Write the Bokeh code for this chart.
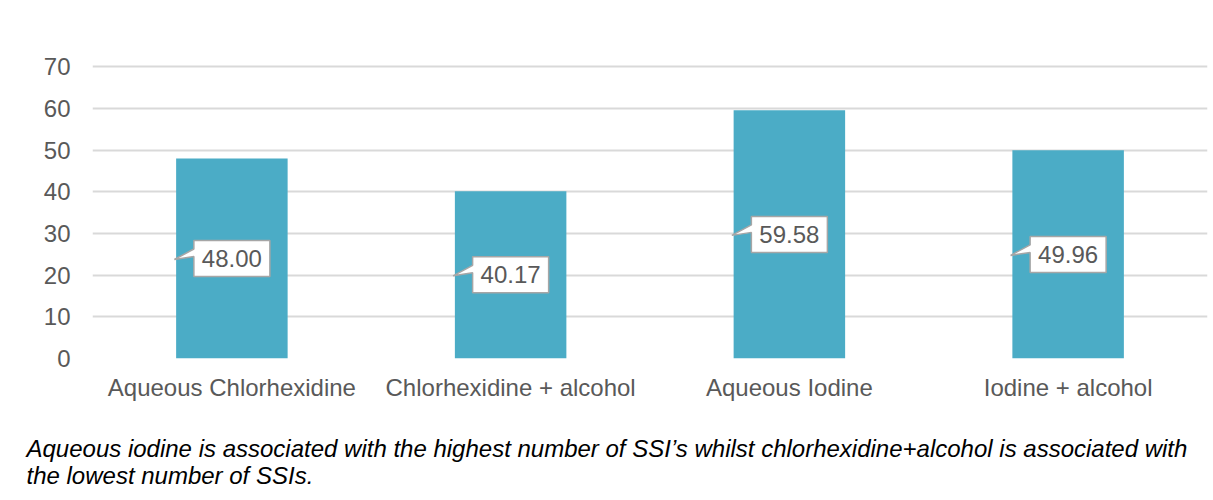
from bokeh.plotting import figure
from bokeh.models import FactorRange, Range1d, Label
from bokeh.embed import file_html
from bokeh.resources import INLINE
from bokeh.core.properties import value

# ---------------- data ----------------
categories = ["Aqueous Chlorhexidine", "Chlorhexidine + alcohol", "Aqueous Iodine", "Iodine + alcohol"]
ssi_values = [48.00, 40.17, 59.58, 49.96]
y_ticks = [0, 10, 20, 30, 40, 50, 60, 70]
caption_lines = [
    "Aqueous iodine is associated with the highest number of SSI\u2019s whilst chlorhexidine+alcohol is associated with",
    "the lowest number of SSIs.",
]

# ---------------- layout constants (canvas px) ----------------
W, H = 1213, 500
FL, FR, FT, FB = 92, 1207, 58, 358
Y_END = 72
FONT = "Liberation Sans"
GREY_TXT = "#595959"
BAR = "#4bacc6"

p = figure(width=W, height=H, x_range=FactorRange(*categories), y_range=Range1d(0, Y_END),
           output_backend="svg", toolbar_location=None, tools="",
           min_border_left=FL, min_border_right=W - FR, min_border_top=FT, min_border_bottom=H - FB)
# pixel range for page decorations (canvas px, y downward)
p.extra_y_ranges = {"px": Range1d(FB, FT)}

p.outline_line_color = None
p.background_fill_color = "white"
p.border_fill_color = "white"

p.xgrid.grid_line_color = None
p.ygrid.grid_line_color = "#d9d9d9"
p.ygrid.grid_line_width = 2
p.yaxis.ticker = y_ticks

for ax in (p.xaxis[0], p.yaxis[0]):
    ax.axis_line_color = None
    ax.major_tick_line_color = None
    ax.minor_tick_line_color = None
    ax.major_tick_out = 0
    ax.major_tick_in = 0
    ax.major_label_text_font = FONT
    ax.major_label_text_font_size = "24px"
    ax.major_label_text_color = GREY_TXT
p.yaxis.major_label_standoff = 22
p.xaxis.major_label_standoff = 15

# bars
p.vbar(x=categories, top=ssi_values, width=0.4, fill_color=BAR, line_color=None)

# callout data labels
cw = (FR - FL) / len(categories)      # px per category
py = (FB - FT) / Y_END                # px per y unit
half_w, half_h = 38, 18
tip_dx, tip_dy = -57.5, -1
att_hi, att_lo = 9.5, 2.0
xs, ys, lx, ly, lt = [], [], [], [], []
for i, v in enumerate(ssi_values):
    cx = i + 0.5
    cy = v / 2
    L = cx - half_w / cw
    R = cx + half_w / cw
    T = cy + half_h / py
    B = cy - half_h / py
    xs.append([L, R, R, L, L, cx + tip_dx / cw, L, L])
    ys.append([T, T, B, B, cy + att_lo / py, cy + tip_dy / py, cy + att_hi / py, T])
    lx.append(categories[i])
    ly.append(cy)
    lt.append(f"{v:.2f}")
p.patches(xs, ys, fill_color="white", line_color="#a6a6a6", line_width=1.5)
p.text(x=lx, y=ly, text=lt, text_align="center", text_baseline="middle",
       text_font=value(FONT), text_font_size="24px", text_color=GREY_TXT)

# ---------------- page decorations (labels in side panel are not clipped) ----------------
def cx_px(c):
    """canvas x pixel -> synthetic categorical coordinate"""
    return (c - FL) / cw

NBSP = "\u00a0"

def panel_box(l, t, fill=None, line=None, lw=0, size=500, n=10):
    """a blank label whose (oversized) box starts at canvas (l, t) and runs past the canvas"""
    p.add_layout(Label(x=cx_px(l), y=t, y_range_name="px", text=NBSP * n,
                       text_font=FONT, text_font_size=f"{size}px", text_alpha=0,
                       text_align="left", text_baseline="top",
                       background_fill_color=fill, background_fill_alpha=1 if fill else 0,
                       border_line_color=line, border_line_width=lw,
                       border_line_alpha=1 if line else 0), "below")

panel_box(26.25, 36.75, line="#d9d9d9", lw=2.5)           # chart area border
panel_box(25, 415.5, fill="#d9d9d9", size=100, n=50)      # chart area bottom border
panel_box(10, 419, fill="black")                          # separator
panel_box(12, 421.5, fill="#c0c0c0")                      # caption background
panel_box(11, 12, line="black", lw=2)                     # outer black border

for txt, base in zip(caption_lines, [448, 475]):
    p.add_layout(Label(x=cx_px(26), y=base, y_range_name="px", text=txt,
                       text_font=FONT, text_font_size="24px", text_font_style="italic",
                       text_color="black", text_baseline="alphabetic", text_align="left"), "below")

open("out.html", "w").write(file_html(p, INLINE))
